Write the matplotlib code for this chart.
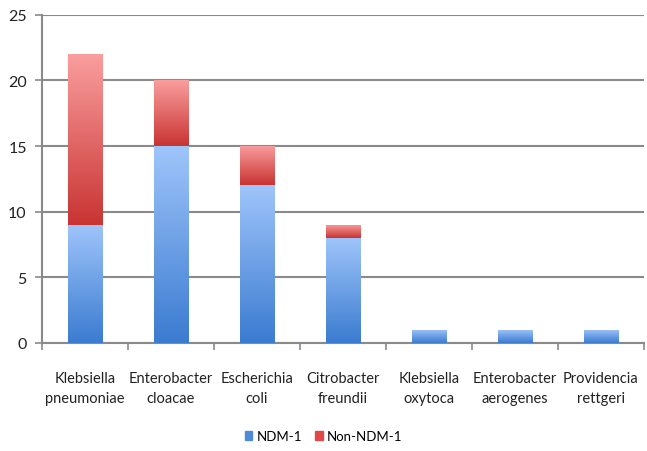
import numpy as np
import matplotlib
matplotlib.use("Agg")
import matplotlib.pyplot as plt
from matplotlib.colors import LinearSegmentedColormap
from matplotlib.patches import Patch

categories = ["Klebsiella\npneumoniae", "Enterobacter\ncloacae", "Escherichia\ncoli",
              "Citrobacter\nfreundii", "Klebsiella\noxytoca", "Enterobacter\naerogenes",
              "Providencia\nrettgeri"]
ndm1 = [9, 15, 12, 8, 1, 1, 1]
non_ndm1 = [13, 5, 3, 1, 0, 0, 0]

plt.rcParams['font.family'] = ['Lato', 'DejaVu Sans']

blue_cmap = LinearSegmentedColormap.from_list("b", ["#3b7bd0", "#9fc5fb"])
red_cmap = LinearSegmentedColormap.from_list("r", ["#c83432", "#fa9e9e"])

fig = plt.figure(figsize=(6.47, 4.52), dpi=100)
ax = fig.add_axes([0.065, 0.239, 0.93, 0.726])

x = np.arange(len(categories))
b1 = ax.bar(x, ndm1, width=0.4, color="#5b93e0", zorder=3)
b2 = ax.bar(x, non_ndm1, width=0.4, bottom=ndm1, color="#e06060", zorder=3)

# gradient fill for each bar, clipped to the bar rectangle
grad = np.linspace(0, 1, 256).reshape(-1, 1)
for bars, cmap in ((b1, blue_cmap), (b2, red_cmap)):
    for r in bars:
        if r.get_height() <= 0:
            continue
        x0, y0 = r.get_x(), r.get_y()
        w, h = r.get_width(), r.get_height()
        im = ax.imshow(grad, cmap=cmap, origin="lower", aspect="auto",
                       extent=(x0, x0 + w, y0, y0 + h), zorder=4)
        im.set_clip_path(r)
        r.set_alpha(0)

ax.set_xlim(-0.5, len(categories) - 0.5)
ax.set_ylim(0, 25)
ax.set_yticks([0, 5, 10, 15, 20, 25])
ax.yaxis.grid(True, color="#8a8a8a", linewidth=1.5, zorder=0)
ax.set_axisbelow(True)

ax.set_xticks(x)
ax.set_xticklabels(categories, fontsize=10.5, color="#222222", linespacing=1.6)
ax.tick_params(axis="x", length=0, pad=20)
ax.set_xticks(np.arange(len(categories) + 1) - 0.5, minor=True)
ax.tick_params(axis="x", which="minor", length=5, color="#8a8a8a", width=1.2)
ax.tick_params(axis="y", length=5, color="#8a8a8a", width=1.2, labelsize=11.5,
               labelcolor="#222222", pad=6)

for s in ["top", "right"]:
    ax.spines[s].set_visible(False)
ax.spines["left"].set_color("#8a8a8a")
ax.spines["bottom"].set_color("#8a8a8a")
ax.spines["left"].set_linewidth(1.5)
ax.spines["bottom"].set_linewidth(1.5)

handles = [Patch(color="#4f8ad8", label="NDM-1"), Patch(color="#e04848", label="Non-NDM-1")]
fig.legend(handles=handles, loc="center", bbox_to_anchor=(0.5, 0.033), ncol=2,
           frameon=False, fontsize=9.5, handlelength=0.6, handleheight=0.6,
           handletextpad=0.3, columnspacing=1.0)

fig.savefig("out.png", dpi=100)
